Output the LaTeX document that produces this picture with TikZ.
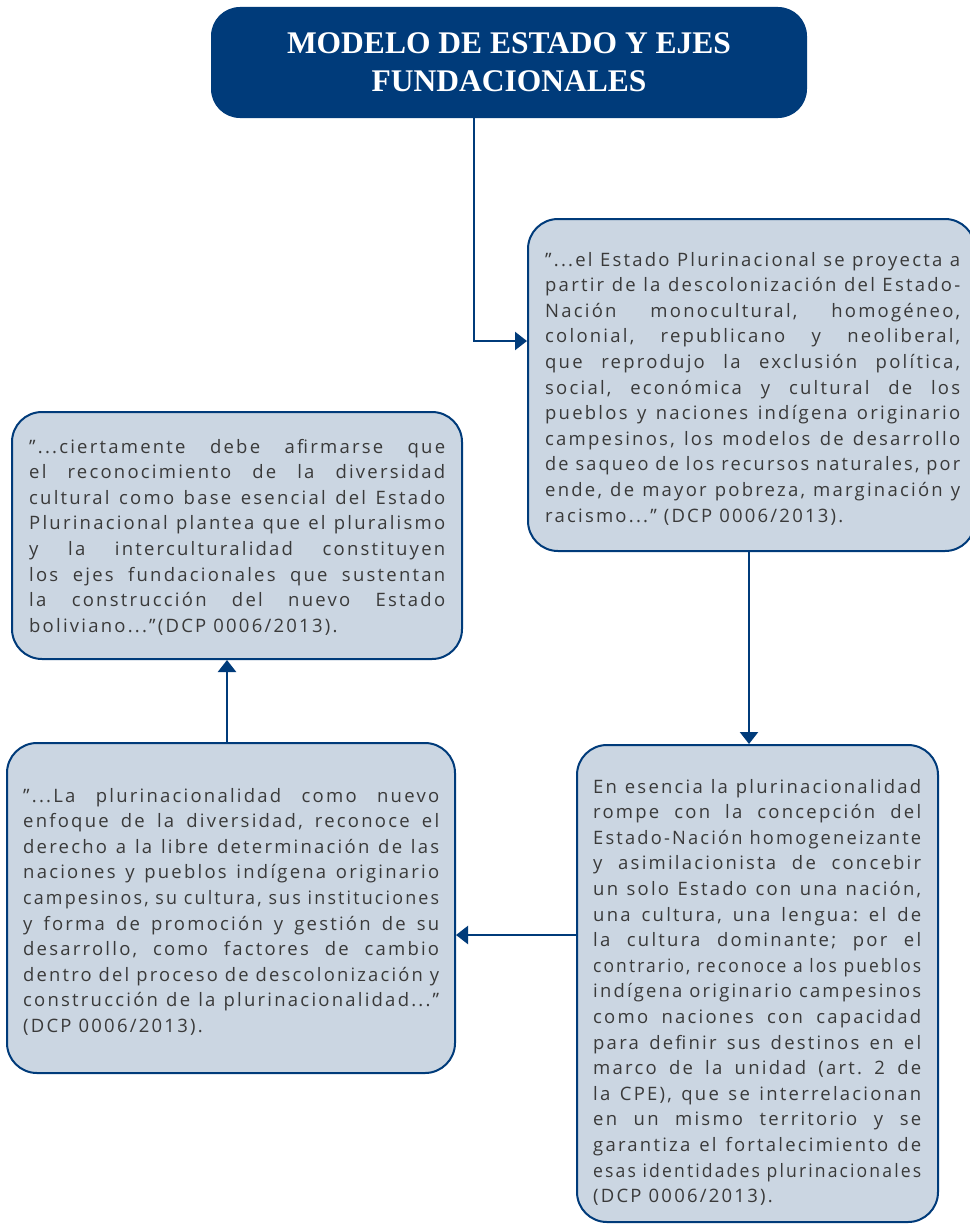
\documentclass[tikz,border=0pt]{standalone}
\usepackage{fontspec}
\usepackage{graphicx}
\setmainfont{Open Sans}[LetterSpace=12]
\newfontfamily\titlefont{Liberation Serif}
\usetikzlibrary{arrows.meta}
\definecolor{dblue}{HTML}{003B7A}
\definecolor{lfill}{HTML}{CBD6E2}
\definecolor{txtc}{HTML}{3A3A3A}
\frenchspacing
\newlength\qw
\newcommand\jl[1]{\setbox0\hbox{#1}%
  \ifdim\wd0>\qw
    \pgfmathsetmacro\qsf{\the\qw/\the\wd0}%
    \hbox to \qw{\scalebox{\qsf}[1]{\box0}\hss}%
  \else
    \hbox to \qw{#1}%
  \fi}
\newcommand\lastl[1]{\hbox to \qw{#1\hfil}}
\newcommand\qtext[2]{\setlength\qw{#1}\vtop{\baselineskip=25.6pt #2}}
\tikzset{
  qbox/.style={draw=dblue, line width=2pt, fill=lfill, rounded corners=30pt, inner sep=0pt},
  titlebox/.style={draw=dblue, line width=2pt, fill=dblue, rounded corners=28pt, inner sep=0pt,
    text=white, align=center, font=\titlefont\bfseries\fontsize{31.5}{38}\selectfont},
  qtxt/.style={inner sep=0pt, anchor=base west, text=txtc, font=\fontsize{18.5}{25.6}\selectfont\frenchspacing},
  conn/.style={draw=dblue, line width=2.3pt},
  arr/.style={conn, -{Triangle[length=12pt,width=18pt]}}
}
\begin{document}
\begin{tikzpicture}[x=1pt,y=-1pt]
\useasboundingbox (0,0) rectangle (969,1231);
\fill[white] (0,0) rectangle (969,1231);
% boxes
\node[titlebox, minimum width=594pt, minimum height=109pt] (t) at (509,62.5) {MODELO DE ESTADO Y EJES\\FUNDACIONALES};
\node[qbox, minimum width=447pt, minimum height=332pt] (b2) at (751.5,385) {};
\node[qbox, minimum width=450pt, minimum height=247pt] (b1) at (237,535.5) {};
\node[qbox, minimum width=448pt, minimum height=330pt] (b3) at (231,908) {};
\node[qbox, minimum width=361pt, minimum height=477pt] (b4) at (757.5,983.5) {};
% texts
\node[qtxt] (x2) at (545,266) {\qtext{415pt}{%
\jl{”...el Estado Plurinacional se proyecta a}
\jl{partir de la descolonización del Estado-}
\jl{Nación monocultural, homogéneo,}
\jl{colonial, republicano y neoliberal,}
\jl{que reprodujo la exclusión política,}
\jl{social, económica y cultural de los}
\jl{pueblos y naciones indígena originario}
\jl{campesinos, los modelos de desarrollo}
\jl{de saqueo de los recursos naturales, por}
\jl{ende, de mayor pobreza, marginación y}
\lastl{racismo...” (DCP 0006/2013).}}};
\node[qtxt] (x1) at (29,453) {\qtext{416pt}{%
\jl{”...ciertamente debe afirmarse que}
\jl{el reconocimiento de la diversidad}
\jl{cultural como base esencial del Estado}
\jl{Plurinacional plantea que el pluralismo}
\jl{y la interculturalidad constituyen}
\jl{los ejes fundacionales que sustentan}
\jl{la construcción del nuevo Estado}
\lastl{boliviano...”(DCP 0006/2013).}}};
\node[qtxt] (x3) at (23,802) {\qtext{416pt}{%
\jl{”...La plurinacionalidad como nuevo}
\jl{enfoque de la diversidad, reconoce el}
\jl{derecho a la libre determinación de las}
\jl{naciones y pueblos indígena originario}
\jl{campesinos, su cultura, sus instituciones}
\jl{y forma de promoción y gestión de su}
\jl{desarrollo, como factores de cambio}
\jl{dentro del proceso de descolonización y}
\jl{construcción de la plurinacionalidad...”}
\lastl{(DCP 0006/2013).}}};
\node[qtxt] (x4) at (593,793) {\qtext{328pt}{%
\jl{En esencia la plurinacionalidad}
\jl{rompe con la concepción del}
\jl{Estado-Nación homogeneizante}
\jl{y asimilacionista de concebir}
\jl{un solo Estado con una nación,}
\jl{una cultura, una lengua: el de}
\jl{la cultura dominante; por el}
\jl{contrario, reconoce a los pueblos}
\jl{indígena originario campesinos}
\jl{como naciones con capacidad}
\jl{para definir sus destinos en el}
\jl{marco de la unidad (art. 2 de}
\jl{la CPE), que se interrelacionan}
\jl{en un mismo territorio y se}
\jl{garantiza el fortalecimiento de}
\jl{esas identidades plurinacionales}
\lastl{(DCP 0006/2013).}}};
% connectors
\coordinate (p1) at ([xshift=-35pt]t.south);
\coordinate (q1) at ([yshift=44pt]b2.west);
\draw[arr] (p1) |- (q1);
\coordinate (p2) at ([xshift=-2.5pt]b2.south);
\draw[arr] (p2) -- (p2 |- b4.north);
\coordinate (p3) at ([yshift=48.5pt]b4.west);
\draw[arr] (p3) -- (p3 -| b3.east);
\coordinate (p4) at ([xshift=-4pt]b3.north);
\draw[arr] (p4) -- (p4 |- b1.south);
\end{tikzpicture}
\end{document}
